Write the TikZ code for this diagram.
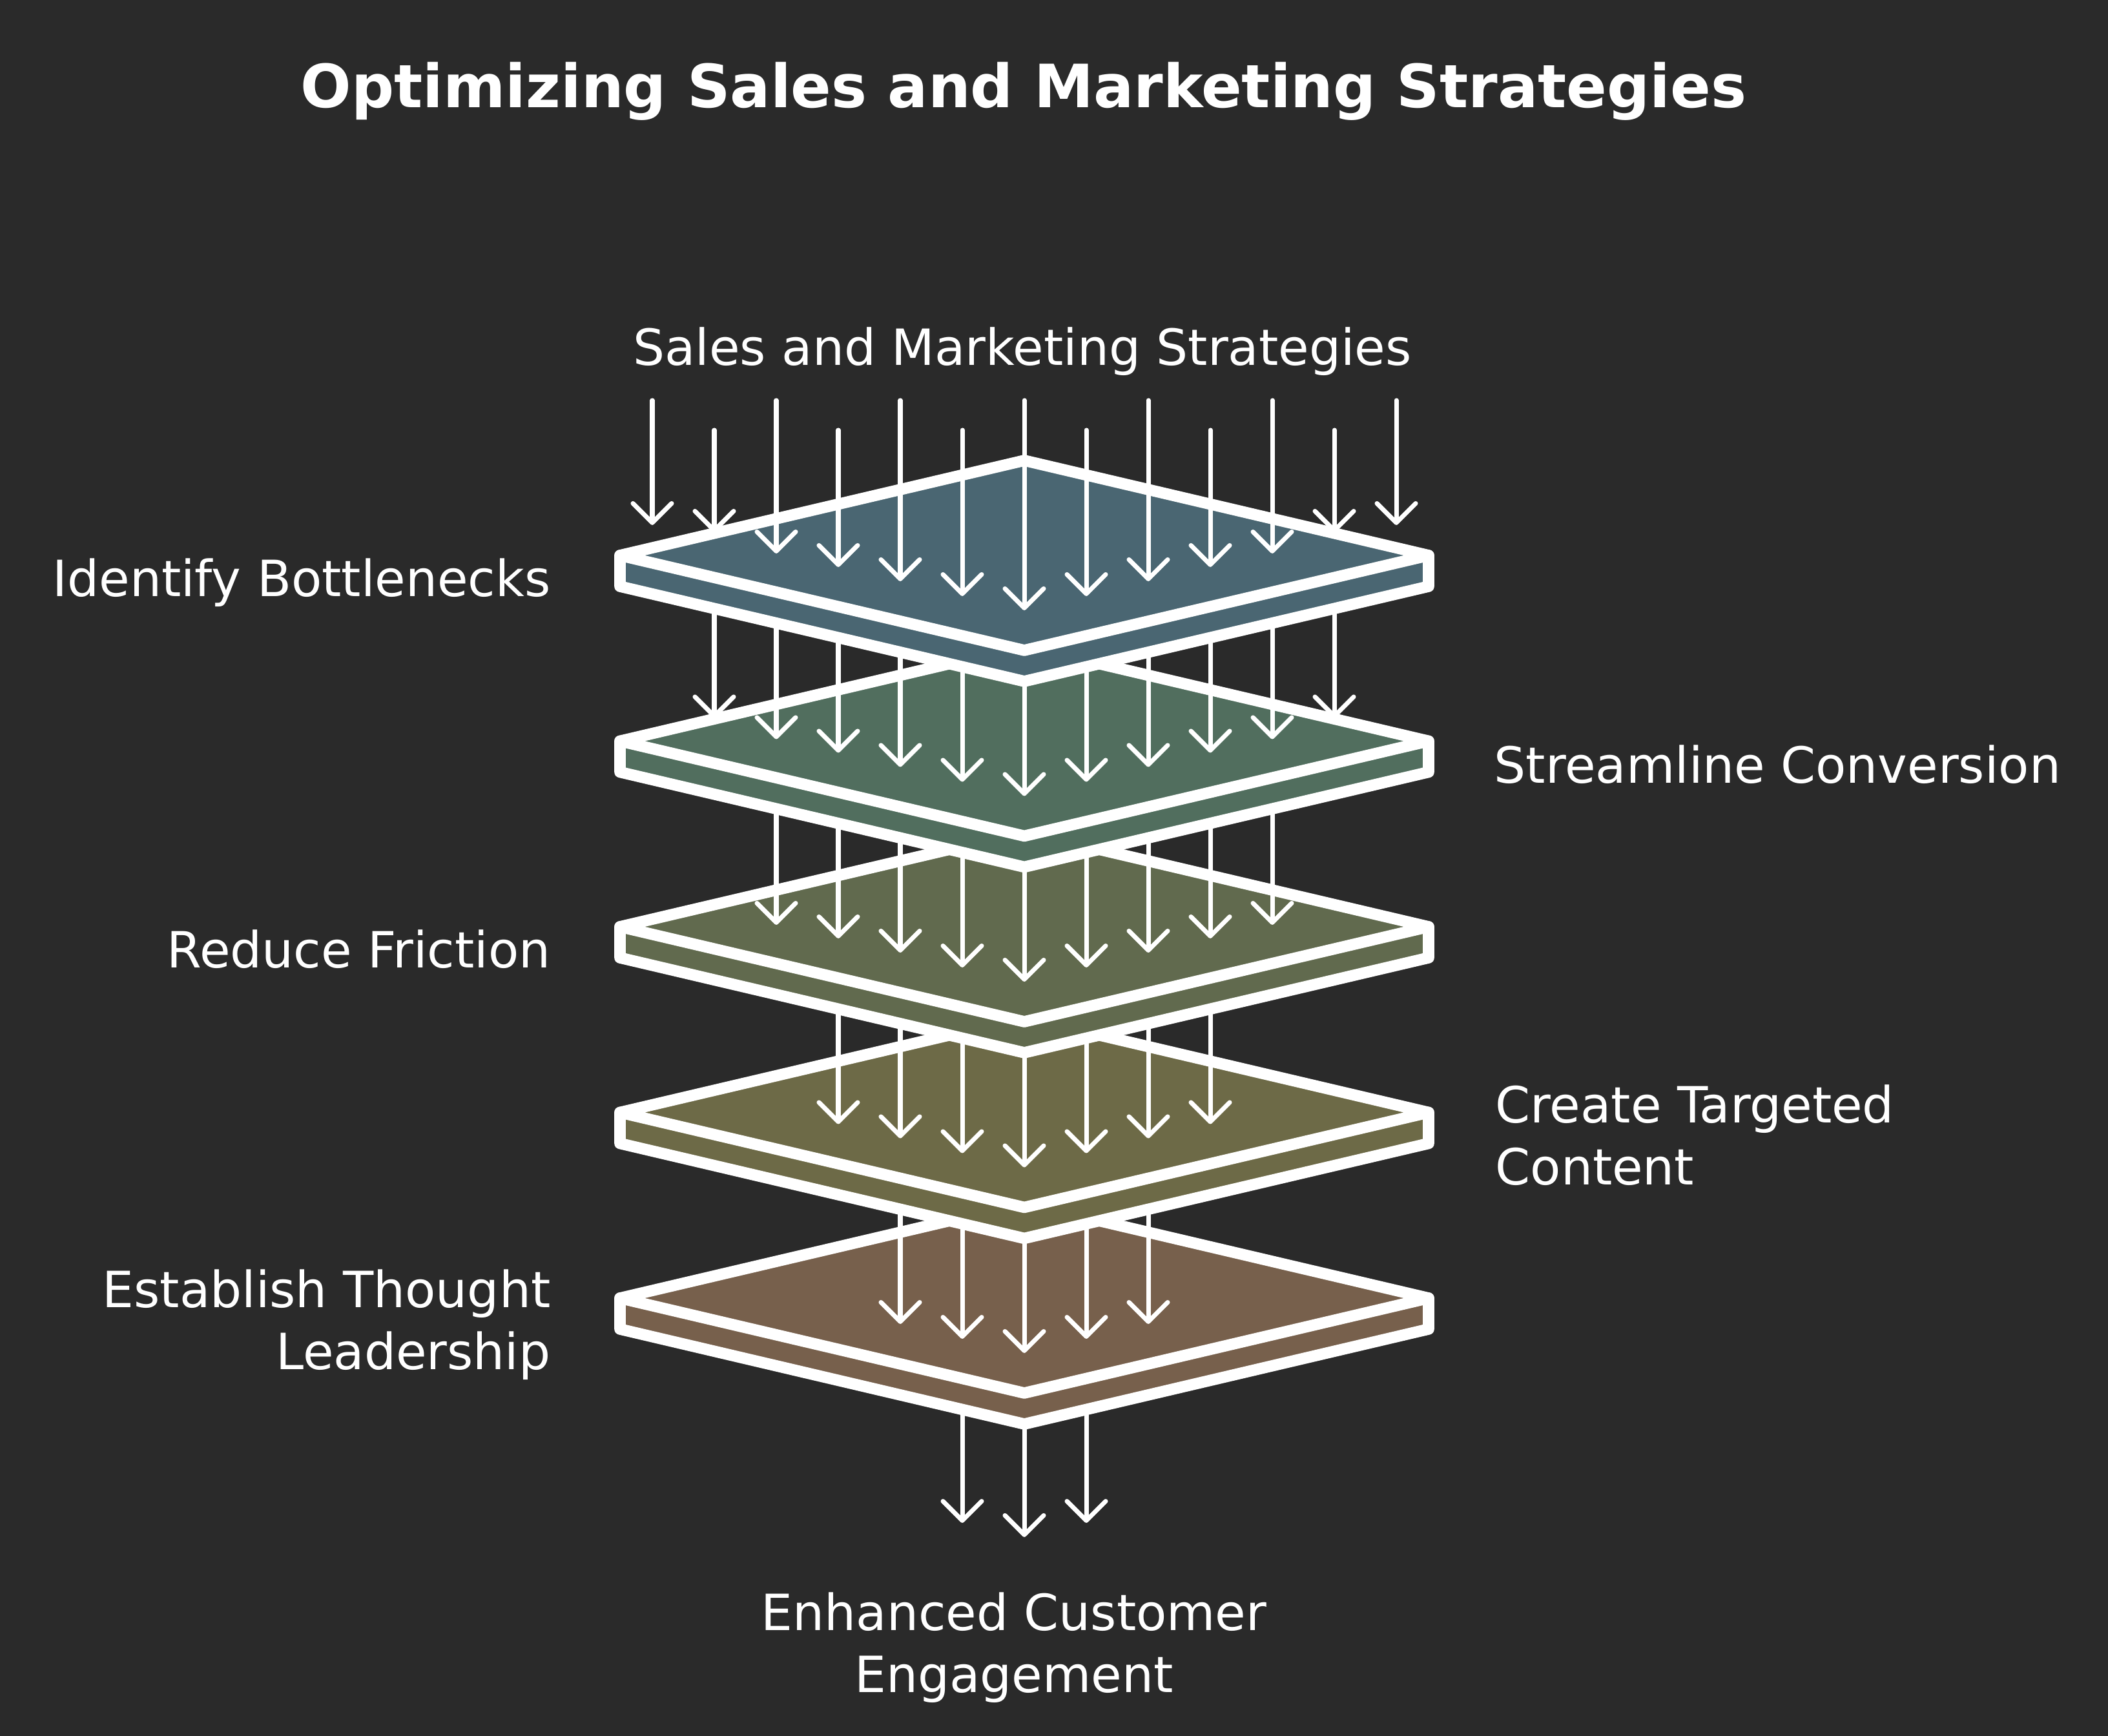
\documentclass[tikz,border=0pt]{standalone}
\usepackage{fontspec}
\setmainfont{DejaVu Sans}
\usetikzlibrary{arrows.meta}

\definecolor{bgdark}{HTML}{2A2A2A}
\definecolor{layerA}{HTML}{4A6672}
\definecolor{layerB}{HTML}{516E5E}
\definecolor{layerC}{HTML}{616A4E}
\definecolor{layerD}{HTML}{6D6A47}
\definecolor{layerE}{HTML}{77604C}

\tikzset{
  slab/.style={draw=white, line width=5pt, line join=round, line cap=round},
  flow/.style={draw=white, line width=2pt, line cap=round,
    -{Straight Barb[length=3mm, width=6mm, round]}},
  stagetext/.style={text=white, inner sep=0pt, font=\fontsize{22}{27.5}\selectfont},
  titletext/.style={text=white, inner sep=0pt, font=\fontsize{26.3}{31}\selectfont\bfseries},
}

\begin{document}
\begin{tikzpicture}
    \pgfmathsetmacro{\midx}{15.86}
    \pgfmathsetmacro{\halfw}{6.26}
    \pgfmathsetmacro{\halfh}{1.47}
    \pgfmathsetmacro{\thick}{0.48}
    \pgfmathsetmacro{\gap}{2.875}
\fill[bgdark] (0,0) rectangle (32.64,26.88);
\useasboundingbox (0,0) rectangle (32.64,26.88);

    % slabs, bottom one first so the upper ones lie over it
    \foreach \i/\col in {4/layerE,3/layerD,2/layerC,1/layerB,0/layerA}{
        \pgfmathsetmacro{\cy}{18.28-\i*\gap}
        \fill[\col] (\midx-\halfw,\cy) -- (\midx,\cy+\halfh) -- (\midx+\halfw,\cy) -- (\midx+\halfw,\cy-\thick) -- (\midx,\cy-\halfh-\thick) -- (\midx-\halfw,\cy-\thick) -- cycle;
        \draw[slab] (\midx-\halfw,\cy) -- ++(\halfw,\halfh) -- ++(\halfw,-\halfh) -- ++(-\halfw,-\halfh) -- cycle;
        \draw[slab] (\midx-\halfw,\cy) -- ++(0,-\thick) -- ++(\halfw,-\halfh) -- ++(\halfw,\halfh) -- ++(0,\thick);
    }

    % arrows reaching each slab, two fewer per step down
    \foreach \i in {0,...,4}{
        \pgfmathtruncatemacro{\n}{6-\i}
        \foreach \k in {-\n,...,\n}{
            \pgfmathsetmacro{\ax}{\midx+0.96*\k}
            \pgfmathsetmacro{\dd}{{0.85,0.63,0.40,0.18,-0.03,-0.35,-0.47}[int(abs(\k))]}
            \pgfmathsetmacro{\tipy}{18.28-\i*\gap-\dd}
            \ifnum\i=0
                \pgfmathsetmacro{\topy}{isodd(\k) ? 20.22 : 20.68}
            \else
                \pgfmathsetmacro{\topy}{18.28-(\i-1)*\gap-\thick-\halfh*(1-abs(0.96*\k)/\halfw)}
            \fi
            \draw[flow] (\ax,\topy) -- (\ax,\tipy);
        }
    }

    % what comes out at the bottom
    \foreach \k/\endy in {-1/3.30,0/3.08,1/3.30}{
        \pgfmathsetmacro{\ax}{\midx+0.96*\k}
        \pgfmathsetmacro{\topy}{18.28-4*\gap-\thick-\halfh*(1-abs(0.96*\k)/\halfw)}
        \draw[flow] (\ax,\topy) -- (\ax,\endy);
    }

    \node[titletext, anchor=base] (title) at (15.85,25.21) {Optimizing Sales and Marketing Strategies};
    \node[stagetext, anchor=base] (source) at (15.83,21.22) {Sales and Marketing Strategies};
    \node[stagetext, anchor=base east] (stageA) at (8.53,17.64) {Identify Bottlenecks};
    \node[stagetext, anchor=base west] (stageB) at (23.13,14.75) {Streamline Conversion};
    \node[stagetext, anchor=base east] (stageC) at (8.53,11.89) {Reduce Friction};
    \node[stagetext, anchor=base west, align=left] (stageD) at (23.15,8.53) {Create Targeted\\Content};
    \node[stagetext, anchor=base east, align=right] (stageE) at (8.53,5.67) {Establish Thought\\Leadership};
    \node[stagetext, anchor=base, align=center] (result) at (15.70,0.67) {Enhanced Customer\\Engagement};

\end{tikzpicture}
\end{document}
